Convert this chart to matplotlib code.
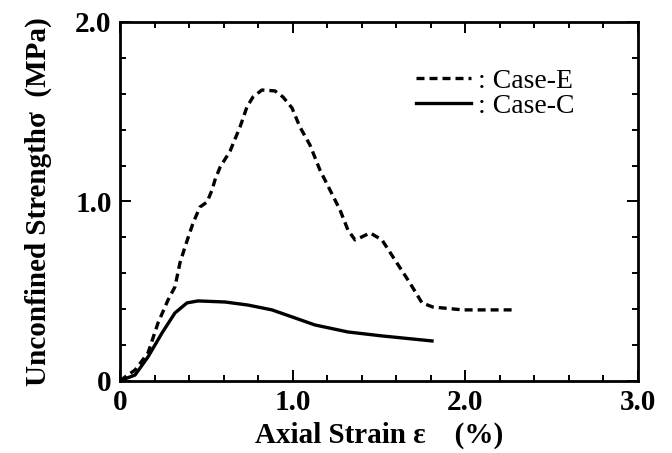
import matplotlib.pyplot as plt
from matplotlib.ticker import MultipleLocator

# Case-E (dashed)
strain_e = [0.0, 0.029, 0.087, 0.162, 0.22, 0.278, 0.318, 0.347, 0.376, 0.423,
            0.463, 0.504, 0.533, 0.55, 0.579, 0.637, 0.695, 0.735, 0.77, 0.822,
            0.897, 0.944, 0.996, 1.042, 1.1, 1.158, 1.216, 1.274, 1.32, 1.361,
            1.395, 1.448, 1.517, 1.604, 1.679, 1.749, 1.812, 1.986, 2.27]
stress_e = [0.0, 0.022, 0.061, 0.156, 0.323, 0.451, 0.524, 0.657, 0.746, 0.88,
            0.969, 0.997, 1.064, 1.12, 1.19, 1.28, 1.415, 1.526, 1.582, 1.621,
            1.616, 1.582, 1.521, 1.415, 1.315, 1.175, 1.064, 0.953, 0.841, 0.786,
            0.80, 0.825, 0.786, 0.657, 0.546, 0.435, 0.412, 0.396, 0.396]

# Case-C (solid)
strain_c = [0.0, 0.012, 0.087, 0.162, 0.243, 0.318, 0.388, 0.452, 0.608, 0.741,
            0.88, 0.996, 1.129, 1.32, 1.517, 1.807]
stress_c = [0.0, 0.006, 0.033, 0.134, 0.267, 0.379, 0.435, 0.446, 0.44, 0.423,
            0.396, 0.357, 0.312, 0.273, 0.251, 0.223]

x_ticks = [0, 1.0, 2.0, 3.0]
x_ticklabels = ["0", "1.0", "2.0", "3.0"]
y_ticks = [0, 1.0, 2.0]
y_ticklabels = ["0", "1.0", "2.0"]

fig = plt.figure(figsize=(6.72, 4.53), dpi=100)
ax = fig.add_axes([0.1786, 0.159, 0.7708, 0.7925])

ax.plot(strain_e, stress_e, color="black", lw=2.4, linestyle=(0, (2.4, 1.5)),
        solid_joinstyle="round", label=": Case-E")
ax.plot(strain_c, stress_c, color="black", lw=2.4, solid_joinstyle="round",
        label=": Case-C")

ax.set_xlim(0, 3.0)
ax.set_ylim(0, 2.0)
ax.set_xticks(x_ticks)
ax.set_xticklabels(x_ticklabels)
ax.set_yticks(y_ticks)
ax.set_yticklabels(y_ticklabels)
ax.xaxis.set_minor_locator(MultipleLocator(0.2))
ax.yaxis.set_minor_locator(MultipleLocator(0.2))
ax.tick_params(which="both", direction="in", top=True, right=True, width=1.4)
ax.tick_params(which="major", length=8, pad=6)
ax.tick_params(which="minor", length=4)
for lab in ax.get_xticklabels() + ax.get_yticklabels():
    lab.set_fontfamily("Liberation Serif")
    lab.set_fontweight("bold")
    lab.set_fontsize(21)
for sp in ax.spines.values():
    sp.set_linewidth(2)

ax.set_xlabel("Axial Strain \u03b5    (%)", fontsize=21, fontweight="bold",
              family="Liberation Serif", labelpad=4)
ax.set_ylabel("Unconfined Strength\u03c3  (MPa)", fontsize=21, fontweight="bold",
              family="Liberation Serif", labelpad=17)

ax.legend(loc="upper left", bbox_to_anchor=(0.571, 0.871), frameon=False,
          borderpad=0, borderaxespad=0, handlelength=2.0, handletextpad=0.25,
          labelspacing=0.0,
          prop={"family": "Liberation Serif", "size": 20})

fig.savefig("out.png")
